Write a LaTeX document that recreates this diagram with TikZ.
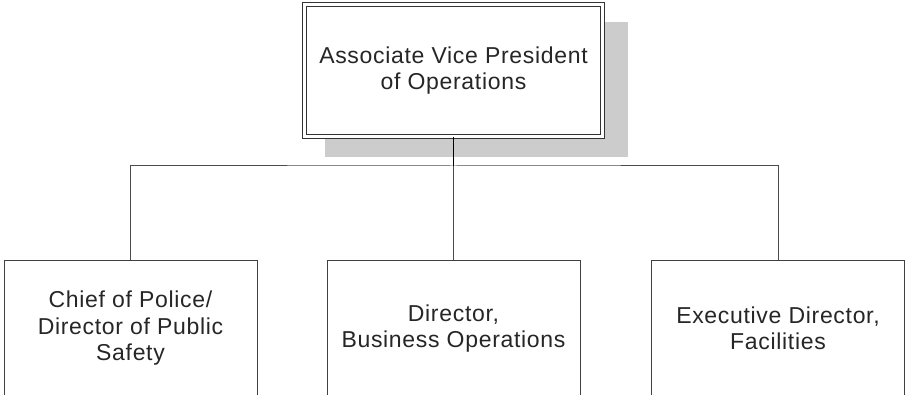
\documentclass[tikz,border=0pt]{standalone}
\usepackage{fontspec}
\setmainfont[LetterSpace=3]{Liberation Sans}
\usetikzlibrary{positioning}

\tikzset{
  unit/.style={rectangle, draw=black!75, line width=1pt, fill=white, text=black!85,
    minimum width=253pt, minimum height=135pt, align=center,
    font=\fontsize{23}{26.5}\selectfont},
  headbox/.style={unit, draw=black!80, double=white, double distance=2.5pt, line width=1.1pt,
    minimum width=298pt, minimum height=132pt},
  link/.style={draw=black!70, line width=1pt}
}

\begin{document}
\begin{tikzpicture}[x=1pt, y=1pt]
    \useasboundingbox (0,0) rectangle (905,394);
    % shadow behind the top box
    \fill[black!20] (325,237) rectangle (628,372);
    \node[headbox] (avpops) at (453.5,323.5) {Associate Vice President\\of Operations};
    \node[unit] (chief) at (130.5,65.5) {Chief of Police/\\Director of Public\\Safety};
    \node[unit] (bizops) at (453.5,65.5) {Director,\\Business Operations};
    \node[unit] (facilities) at (778,65.5) {Executive Director,\\Facilities};
    \coordinate (junction) at (453.5,228);
    \draw[link] (chief.north) |- (junction) -| (facilities.north);
    \draw[link] (bizops.north) -- (junction);
    \draw[link, draw=black, line width=1.6pt] (junction) -- (avpops.south);
  \end{tikzpicture}
\end{document}
